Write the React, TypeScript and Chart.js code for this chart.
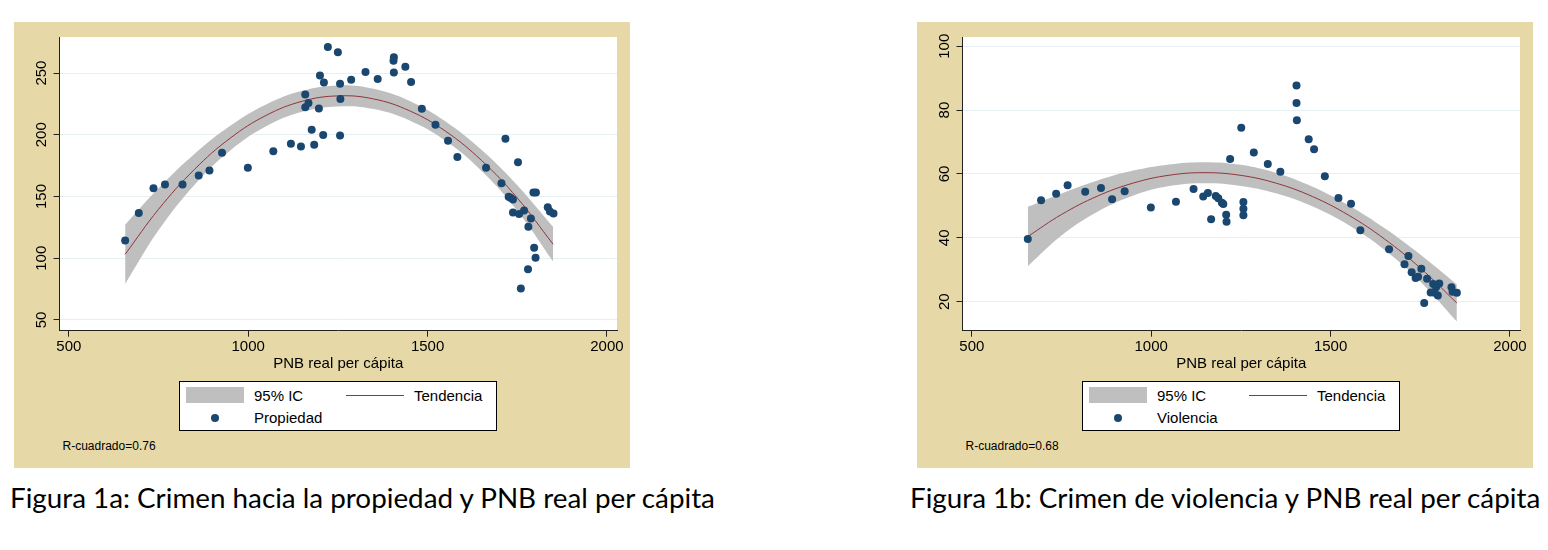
import { useEffect, useRef } from 'react';
import { Chart, registerables } from 'chart.js';

Chart.register(...registerables);

// shared axis ticks
const X_TICKS = [500, 1000, 1500, 2000];
const Y_TICKS_PROP = [50, 100, 150, 200, 250];
const Y_TICKS_VIOL = [20, 40, 60, 80, 100];

// Figura 1a: crimen hacia la propiedad (observaciones)
const PROP_X = [657, 695, 736, 768, 817, 862, 892, 927, 999, 1070, 1119, 1147, 1159, 1159, 1168, 1177, 1184, 1197, 1200, 1211, 1209, 1222, 1250, 1256, 1257, 1256, 1287, 1327, 1361, 1405, 1406, 1406, 1438, 1454, 1484, 1522, 1557, 1583, 1663, 1706, 1717, 1726, 1731, 1738, 1738, 1752, 1755, 1769, 1781, 1788, 1780, 1760, 1797, 1801, 1795, 1802, 1835, 1841, 1851];
const PROP_Y = [114.3, 136.7, 156.7, 159.7, 159.7, 167, 171, 185.4, 173.3, 186.7, 192.8, 190.5, 232.7, 222.3, 225.7, 204, 192, 221.3, 248.1, 242.4, 199.8, 271.1, 266.8, 241.4, 229, 199.5, 244.6, 250.8, 245.1, 260, 262.7, 250.5, 255.1, 242.7, 221.1, 208.1, 195.1, 181.9, 173.2, 160.8, 196.8, 149.7, 148.9, 147.6, 137, 177.8, 135.9, 138.6, 125.4, 132.2, 91.1, 75.4, 108.4, 100.3, 153.2, 153.2, 141.3, 137.8, 136.2];

// Figura 1a: tendencia e intervalo de confianza
const PROP_FIT_X = [657, 750, 850, 950, 1050, 1150, 1250, 1350, 1450, 1550, 1650, 1750, 1850];
const PROP_FIT = [103.2, 139.6, 171.9, 197.3, 215.7, 227.1, 231.5, 229.0, 219.4, 202.9, 179.3, 148.8, 111.3];
const PROP_LO = [79.2, 122.6, 159.4, 187.3, 206.9, 218.6, 223.0, 220.8, 211.5, 195.1, 170.8, 138.5, 97.3];
const PROP_HI = [127.2, 156.6, 184.4, 207.3, 224.5, 235.6, 240.0, 237.2, 227.3, 210.7, 187.8, 159.1, 125.3];

// Figura 1b: crimen de violencia (observaciones)
const VIOL_X = [656, 693, 735, 767, 816, 860, 891, 926, 999, 1069, 1118, 1145, 1158, 1167, 1180, 1187, 1197, 1201, 1209, 1210, 1220, 1251, 1257, 1257, 1257, 1286, 1325, 1360, 1405, 1405, 1406, 1439, 1454, 1484, 1522, 1557, 1583, 1663, 1706, 1717, 1726, 1737, 1744, 1753, 1761, 1769, 1779, 1786, 1794, 1799, 1803, 1790, 1837, 1840, 1852];
const VIOL_Y = [39.6, 51.8, 53.8, 56.5, 54.4, 55.6, 52.1, 54.6, 49.5, 51.3, 55.3, 52.9, 54, 45.8, 53.1, 52.4, 51, 50.6, 47.2, 45, 64.7, 74.5, 51.2, 49.1, 47.1, 66.7, 63.1, 60.7, 87.7, 82.2, 76.8, 70.9, 67.7, 59.3, 52.5, 50.7, 42.4, 36.4, 31.7, 34.3, 29.2, 27.4, 27.8, 30.3, 19.6, 27.2, 22.9, 25.5, 24.5, 21.9, 25.7, 22.8, 24.5, 23.1, 22.8];

// Figura 1b: tendencia e intervalo de confianza
const VIOL_FIT_X = [656, 750, 850, 950, 1050, 1150, 1250, 1350, 1450, 1550, 1650, 1750, 1852];
const VIOL_FIT = [40.4, 47.3, 53.05, 57.15, 59.6, 60.4, 59.55, 57.05, 52.9, 47.1, 39.65, 30.55, 19.56];
const VIOL_LO = [31.1, 40.7, 48.15, 53.25, 56.2, 57.1, 56.25, 53.85, 49.8, 44.0, 36.25, 26.35, 13.76];
const VIOL_HI = [49.7, 53.9, 57.95, 61.05, 63.0, 63.7, 62.85, 60.25, 56.0, 50.2, 43.05, 34.75, 25.36];

const FONT = '"Liberation Sans", Arial, Helvetica, sans-serif';
const BEIGE = '#e6d9a7';
const NAVY = '#1a476f';
const MAROON = '#90353b';
const BAND = '#bfbfbf';
const GRID = '#e6eff1';
const AXIS = '#222222';

Chart.defaults.font.family = FONT;

// Stata draws the y tick labels turned 90 degrees
const rotatedYTicks = {
  id: 'rotatedYTicks',
  afterDraw(chart: any) {
    const y = chart.scales.y;
    const ctx = chart.ctx;
    ctx.save();
    ctx.font = `15px ${FONT}`;
    ctx.fillStyle = '#000';
    ctx.textAlign = 'center';
    ctx.textBaseline = 'middle';
    y.ticks.forEach((t: any) => {
      const py = y.getPixelForValue(t.value);
      ctx.save();
      ctx.translate(y.right - 18, py);
      ctx.rotate(-Math.PI / 2);
      ctx.fillText(String(t.value), 0, 0);
      ctx.restore();
    });
    ctx.restore();
  },
};

interface PanelProps {
  left: number;
  xs: number[];
  ys: number[];
  fitX: number[];
  fit: number[];
  lo: number[];
  hi: number[];
  yMin: number;
  yMax: number;
  yTicks: number[];
  label: string;
  note: string;
}

function Panel({ left, xs, ys, fitX, fit, lo, hi, yMin, yMax, yTicks, label, note }: PanelProps) {
  const canvasRef = useRef<HTMLCanvasElement>(null);

  useEffect(() => {
    if (!canvasRef.current) return;
    const pts = (a: number[], b: number[]) => a.map((x, i) => ({ x, y: b[i] }));

    const chart = new Chart(canvasRef.current, {
      type: 'scatter',
      data: {
        datasets: [
          {
            label,
            data: pts(xs, ys),
            backgroundColor: NAVY,
            borderWidth: 0,
            pointRadius: 4,
            order: 0,
          },
          {
            type: 'line',
            label: 'Tendencia',
            data: pts(fitX, fit),
            borderColor: MAROON,
            borderWidth: 1,
            pointRadius: 0,
            tension: 0.4,
            fill: false,
            order: 1,
          },
          {
            type: 'line',
            label: 'lo',
            data: pts(fitX, lo),
            borderWidth: 0,
            borderColor: 'transparent',
            pointRadius: 0,
            tension: 0.4,
            fill: false,
            order: 3,
          },
          {
            type: 'line',
            label: '95% IC',
            data: pts(fitX, hi),
            borderWidth: 0,
            borderColor: 'transparent',
            backgroundColor: BAND,
            pointRadius: 0,
            tension: 0.4,
            fill: '-1',
            order: 2,
          },
        ] as any,
      },
      options: {
        responsive: false,
        animation: false,
        layout: { padding: { left: 0, top: 15, right: 13, bottom: 0 } },
        plugins: { legend: { display: false }, tooltip: { enabled: false } },
        scales: {
          x: {
            type: 'linear',
            min: 474,
            max: 2028,
            afterBuildTicks: (s: any) => {
              s.ticks = X_TICKS.map((v) => ({ value: v }));
            },
            afterFit: (s: any) => {
              s.height = 42.3;
            },
            ticks: {
              font: { size: 15 },
              color: '#000',
              padding: 1,
              maxRotation: 0,
              callback: (v: any) => String(v),
            },
            grid: { drawOnChartArea: false, tickLength: 6, tickColor: AXIS },
            border: { color: AXIS, width: 1 },
            title: {
              display: true,
              text: 'PNB real per cápita',
              font: { size: 15 },
              color: '#000',
              padding: 0,
            },
          },
          y: {
            type: 'linear',
            min: yMin,
            max: yMax,
            afterBuildTicks: (s: any) => {
              s.ticks = yTicks.map((v) => ({ value: v }));
            },
            afterFit: (s: any) => {
              s.width = 45.5;
            },
            ticks: { display: false },
            grid: { color: GRID, lineWidth: 1, tickLength: 6, tickColor: AXIS },
            border: { color: AXIS, width: 1 },
          },
        },
      },
      plugins: [
        {
          id: 'whitePlot',
          beforeDraw(c: any) {
            const { left: l, top, width, height } = c.chartArea;
            c.ctx.save();
            c.ctx.fillStyle = '#fff';
            c.ctx.fillRect(l, top, width, height);
            c.ctx.restore();
          },
        },
        rotatedYTicks,
      ],
    } as any);

    return () => chart.destroy();
  }, []);

  const text: React.CSSProperties = {
    position: 'absolute',
    fontSize: 15,
    lineHeight: '18px',
    whiteSpace: 'nowrap',
    color: '#000',
  };

  return (
    <div
      style={{
        position: 'absolute',
        left,
        top: 22,
        width: 616,
        height: 446,
        background: BEIGE,
        fontFamily: FONT,
      }}
    >
      <canvas ref={canvasRef} width={616} height={351} style={{ position: 'absolute', left: 0, top: 0 }} />
      <div
        style={{
          position: 'absolute',
          left: 165,
          top: 359,
          width: 318,
          height: 50,
          boxSizing: 'border-box',
          border: '1px solid #000',
          background: '#fff',
        }}
      >
        <div style={{ position: 'absolute', left: 6, top: 5.4, width: 58, height: 16, background: BAND }} />
        <span style={{ ...text, left: 74, top: 4.7 }}>95% IC</span>
        <div style={{ position: 'absolute', left: 166, top: 13, width: 58, height: 1.4, background: MAROON }} />
        <span style={{ ...text, left: 234, top: 4.7 }}>Tendencia</span>
        <div
          style={{
            position: 'absolute',
            left: 31,
            top: 31.7,
            width: 8,
            height: 8,
            borderRadius: '50%',
            background: NAVY,
          }}
        />
        <span style={{ ...text, left: 74, top: 26.7 }}>{label}</span>
      </div>
      <span style={{ ...text, fontSize: 12, lineHeight: '14px', left: 48.5, top: 417 }}>{note}</span>
    </div>
  );
}

export default function App() {
  const caption: React.CSSProperties = {
    position: 'absolute',
    top: 481,
    fontFamily: 'Lato, "Noto Sans", sans-serif',
    fontSize: 27.8,
    lineHeight: '34px',
    whiteSpace: 'nowrap',
    color: '#000',
  };
  return (
    <div style={{ position: 'absolute', left: 0, top: 0, width: 1548, height: 550, background: '#fff', overflow: 'hidden' }}>
      <Panel
        left={14}
        xs={PROP_X}
        ys={PROP_Y}
        fitX={PROP_FIT_X}
        fit={PROP_FIT}
        lo={PROP_LO}
        hi={PROP_HI}
        yMin={41.3}
        yMax={279.2}
        yTicks={Y_TICKS_PROP}
        label="Propiedad"
        note="R-cuadrado=0.76"
      />
      <Panel
        left={917}
        xs={VIOL_X}
        ys={VIOL_Y}
        fitX={VIOL_FIT_X}
        fit={VIOL_FIT}
        lo={VIOL_LO}
        hi={VIOL_HI}
        yMin={10.9}
        yMax={102.9}
        yTicks={Y_TICKS_VIOL}
        label="Violencia"
        note="R-cuadrado=0.68"
      />
      <div style={{ ...caption, left: 10 }}>Figura 1a: Crimen hacia la propiedad y PNB real per cápita</div>
      <div style={{ ...caption, left: 910 }}>Figura 1b: Crimen de violencia y PNB real per cápita</div>
    </div>
  );
}
